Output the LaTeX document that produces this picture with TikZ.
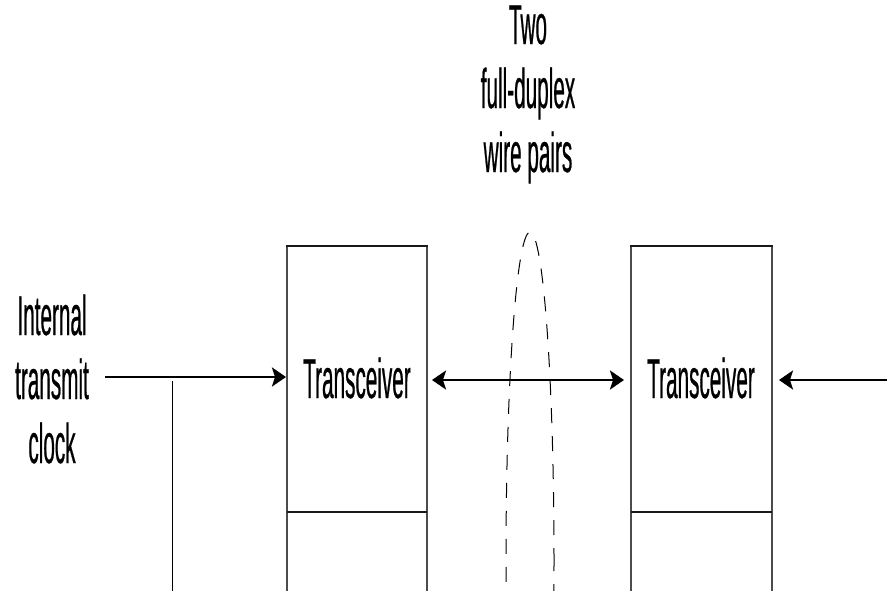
\documentclass[tikz,border=0pt]{standalone}
\usepackage{fontspec}
\setmainfont[FakeStretch=0.37,FakeBold=0.4]{Liberation Sans}
\usetikzlibrary{arrows.meta}
\begin{document}
\begin{tikzpicture}[x=1pt,y=-1pt,
  lbl/.style={font=\fontsize{56}{64}\selectfont, inner sep=0pt, align=center},
  side/.style={line width=1.2pt, draw=black!70},
  topbar/.style={line width=2.6pt, draw=black!90},
  conn/.style={line width=2.4pt, -{Stealth[length=14pt,width=19pt,inset=3pt]}},
  dconn/.style={line width=2.4pt, {Stealth[length=14pt,width=19pt,inset=3pt]}-{Stealth[length=14pt,width=19pt,inset=3pt]}},
  pair/.style={line width=1pt, dash pattern=on 15pt off 13pt, dash phase=4pt}]
\useasboundingbox (0,0) rectangle (887,590);
\clip (0,0) rectangle (887,590);
% boxes (open at bottom)
\draw[side] (287,246) -- (287,600);
\draw[side] (427,246) -- (427,600);
\draw[topbar] (286,246) -- (428,246);
\draw[topbar] (287,512) -- (427,512);
\draw[side] (631,246) -- (631,600);
\draw[side] (772,246) -- (772,600);
\draw[topbar] (630,246) -- (773,246);
\draw[topbar] (631,512) -- (772,512);
% labels
\node[lbl, anchor=base] (t1) at (357,398) {Transceiver};
\node[lbl, anchor=base] (t2) at (701,398) {Transceiver};
\node[lbl, anchor=base] (clk) at (52,463) {Internal\\transmit\\clock};
\node[lbl, anchor=base] (wp) at (528,172) {Two\\full-duplex\\wire pairs};
% connector endpoints
\coordinate (clkout) at (105,377);
\coordinate (t1in) at (286,377);
\coordinate (tap) at (172,377);
\coordinate (tapend) at (172,600);
\coordinate (t1out) at (432,380);
\coordinate (t2in) at (624,380);
\coordinate (t2src) at (890,380);
\coordinate (t2rin) at (779,380);
\draw[conn] (clkout) -- (t1in);
\draw[line width=1pt] ([yshift=-4pt]tap) -- (tapend);
\draw[dconn] (t1out) -- (t2in);
\draw[conn] (t2src) -- (t2rin);
% wire pair ellipse
\draw[pair] (530,560) ellipse [x radius=24, y radius=328];
\end{tikzpicture}
\end{document}
